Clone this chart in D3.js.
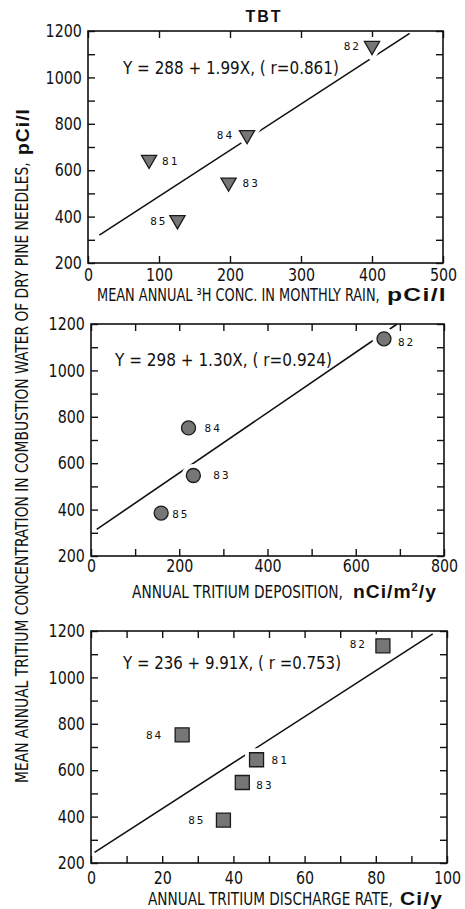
<!DOCTYPE html>
<html>
<head>
<meta charset="utf-8">
<script src="https://cdn.jsdelivr.net/npm/d3@7"></script>
<style>
  body { margin: 0; background: #fff; }
  svg text { fill: #111; }
</style>
</head>
<body>
<svg id="chart" width="465" height="909"></svg>
<script>
// Sampling years and mean annual tritium concentration in combustion water of dry pine needles (pCi/l)
const years = ["81", "82", "83", "84", "85"];
const needleConc = [645, 1136, 547, 752, 385];

// Explanatory variables per year (null = no value for that year)
const rainConc = [86, 400, 198, 224, 126];        // mean annual 3H conc. in monthly rain, pCi/l
const deposition = [null, 664, 232, 221, 159];    // annual tritium deposition, nCi/m2/y
const discharge = [46.5, 82, 42.5, 25.6, 37.2];   // annual tritium discharge rate, Ci/y

// Tick labels
const yTicks = [200, 400, 600, 800, 1000, 1200];
const rainTicks = [0, 100, 200, 300, 400, 500];
const depositionTicks = [0, 200, 400, 600, 800];
const dischargeTicks = [0, 20, 40, 60, 80, 100];

// Linear regressions Y = a + bX
const intercepts = [288, 298, 236];
const slopes = [1.99, 1.30, 9.91];
const rValues = ["0.861", "0.924", "0.753"];
const fitRanges = [[16, 453], [13, 693], [1, 96]];

const svg = d3.select("#chart");
const condensed = "'DejaVu Sans Condensed', 'Liberation Sans Narrow', sans-serif";
const boldFont = "'Liberation Sans', Arial, Helvetica, sans-serif";

// Place a text so that it spans [x0, x1] horizontally by scaling its glyphs
function fitText(parent, str, x0, x1, y, styles) {
  const g = parent.append("g");
  const t = g.append("text").attr("x", 0).attr("y", 0);
  Object.entries(styles).forEach(([k, v]) => t.style(k, v));
  if (Array.isArray(str)) {
    t.append("tspan").text(str[0]);
    t.append("tspan").attr("dy", -7).style("font-size", "11px").text(str[1]);
    t.append("tspan").attr("dy", 7).text(str[2]);
  } else {
    t.text(str);
  }
  const w = t.node().getBBox().width;
  g.attr("transform", `translate(${x0},${y}) scale(${(x1 - x0) / w},1)`);
  return g;
}

svg.append("text")
  .attr("x", 264).attr("y", 22)
  .attr("text-anchor", "middle")
  .style("font-family", boldFont)
  .style("font-weight", "bold")
  .style("font-size", "16px")
  .style("letter-spacing", "2px")
  .text("TBT");

const panels = [
  { xs: rainConc, xTicks: rainTicks, minorStep: 100, box: [88, 31, 443, 263], shape: d3.symbolTriangle, size: 100, rotate: 180,
    tickPad: 5, eq: { x: 123, y: 74, w: 217, rGap: "" },
    labels: { "81": [13, 1, "start"], "82": [-11, 0, "end"], "83": [14, 1, "start"], "84": [-13, 0, "end"], "85": [-10, 1, "end"] },
    title: { text: "MEAN ANNUAL \u00B3H CONC. IN MONTHLY RAIN,", x0: 97, x1: 380, y: 301, unit: "pCi/l", ux0: 387, ux1: 447 } },
  { xs: deposition, xTicks: depositionTicks, minorStep: 100, box: [91, 324, 444, 556], shape: d3.symbolCircle, size: 154, rotate: 0,
    tickPad: 3, eq: { x: 115, y: 366, w: 218, rGap: "" },
    labels: { "82": [14, 3, "start"], "83": [20, 0, "start"], "84": [16, 0, "start"], "85": [11, 1, "start"] },
    title: { text: "ANNUAL TRITIUM DEPOSITION,", x0: 132, x1: 343, y: 598, unit: ["nCi/m", "2", "/y"], ux0: 353, ux1: 437 } },
  { xs: discharge, xTicks: dischargeTicks, minorStep: 10, box: [91, 631, 447, 863], shape: d3.symbolSquare, size: 196, rotate: 0,
    tickPad: 8, eq: { x: 123, y: 669, w: 219, rGap: " " },
    labels: { "81": [15, 0, "start"], "82": [-16, -2, "end"], "83": [14, 3, "start"], "84": [-19, 0, "end"], "85": [-18, 0, "end"] },
    title: { text: "ANNUAL TRITIUM DISCHARGE RATE,", x0: 148, x1: 393, y: 905, unit: "Ci/y", ux0: 400, ux1: 443 } }
];

const condensedStyle = { "font-family": condensed, "font-size": "17px" };
const unitStyle = { "font-family": boldFont, "font-weight": "bold", "font-size": "19px", "letter-spacing": "1px" };

panels.forEach((p, i) => {
  const [x0, y0, x1, y1] = p.box;
  const xDom = d3.extent(p.xTicks);
  const x = d3.scaleLinear().domain(xDom).range([x0, x1]);
  const y = d3.scaleLinear().domain([200, 1200]).range([y1, y0]);
  const xMinor = d3.range(xDom[0], xDom[1] + 1e-9, p.minorStep);
  const yMinor = d3.range(200, 1201, 100);

  const g = svg.append("g");

  // Inward ticks on all four sides, narrow labels on left and bottom
  const axisStyle = sel => {
    sel.select(".domain").remove();
    sel.selectAll("line").attr("stroke", "#111").attr("stroke-width", 1.4);
    sel.selectAll("text")
      .style("font-family", condensed)
      .style("font-size", "18px")
      .attr("fill", "#111")
      .attr("transform", "scale(0.88,1)");
  };
  g.append("g").attr("transform", `translate(${x0},0)`)
    .call(d3.axisLeft(y).tickValues(yMinor).tickSizeInner(-7).tickSizeOuter(0).tickPadding(7)
      .tickFormat(d => yTicks.includes(d) ? d : ""))
    .call(axisStyle);
  g.append("g").attr("transform", `translate(${x1},0)`)
    .call(d3.axisRight(y).tickValues(yMinor).tickSizeInner(-7).tickSizeOuter(0).tickFormat(""))
    .call(axisStyle);
  g.append("g").attr("transform", `translate(0,${y1})`)
    .call(d3.axisBottom(x).tickValues(xMinor).tickSizeInner(-7).tickSizeOuter(0).tickPadding(p.tickPad)
      .tickFormat(d => p.xTicks.includes(d) ? d : ""))
    .call(axisStyle);
  g.append("g").attr("transform", `translate(0,${y0})`)
    .call(d3.axisTop(x).tickValues(xMinor).tickSizeInner(-7).tickSizeOuter(0).tickFormat(""))
    .call(axisStyle);

  g.append("rect")
    .attr("x", x0).attr("y", y0)
    .attr("width", x1 - x0).attr("height", y1 - y0)
    .attr("fill", "none").attr("stroke", "#111").attr("stroke-width", 1.6);

  // Regression line
  const fit = v => intercepts[i] + slopes[i] * v;
  g.append("path")
    .datum(fitRanges[i])
    .attr("d", d3.line().x(v => x(v)).y(v => y(fit(v))))
    .attr("fill", "none").attr("stroke", "#111").attr("stroke-width", 1.6);

  // Equation
  fitText(g, `Y = ${intercepts[i]} + ${slopes[i].toFixed(2)}X, ( r${p.eq.rGap}=${rValues[i]})`,
    p.eq.x, p.eq.x + p.eq.w, p.eq.y, { "font-family": condensed, "font-size": "18px" });

  // Data points
  const pts = years.map((yr, k) => ({ yr, xv: p.xs[k], yv: needleConc[k] })).filter(d => d.xv != null);
  const sym = d3.symbol().type(p.shape).size(p.size);
  const place = d => `translate(${x(d.xv)},${y(d.yv)}) rotate(${p.rotate})`;

  g.selectAll(".halo").data(pts).join("path")
    .attr("d", sym).attr("transform", place)
    .attr("fill", "#fff").attr("stroke", "#fff").attr("stroke-width", 9);
  g.selectAll(".mark").data(pts).join("path")
    .attr("d", sym).attr("transform", place)
    .attr("fill", "#767676").attr("stroke", "#1a1a1a").attr("stroke-width", 1.3);

  g.selectAll(".ptlabel").data(pts).join("text")
    .attr("x", d => x(d.xv) + p.labels[d.yr][0])
    .attr("y", d => y(d.yv) + p.labels[d.yr][1] + 4)
    .attr("text-anchor", d => p.labels[d.yr][2])
    .style("font-family", "'DejaVu Sans Mono', 'Liberation Mono', monospace")
    .style("font-size", "11px")
    .style("letter-spacing", "2px")
    .text(d => d.yr);

  // X-axis title: condensed text followed by bold unit
  const t = p.title;
  fitText(g, t.text, t.x0, t.x1, t.y, condensedStyle);
  fitText(g, t.unit, t.ux0, t.ux1, t.y, unitStyle);
});

// Shared y-axis title
const yTitle = svg.append("g").attr("transform", "translate(28,0) rotate(-90)");
fitText(yTitle, "MEAN ANNUAL TRITIUM CONCENTRATION IN COMBUSTION WATER OF DRY PINE NEEDLES,",
  -783, -162, 0, condensedStyle);
fitText(yTitle, "pCi/l", -155, -108, 1, unitStyle);
</script>
</body>
</html>
